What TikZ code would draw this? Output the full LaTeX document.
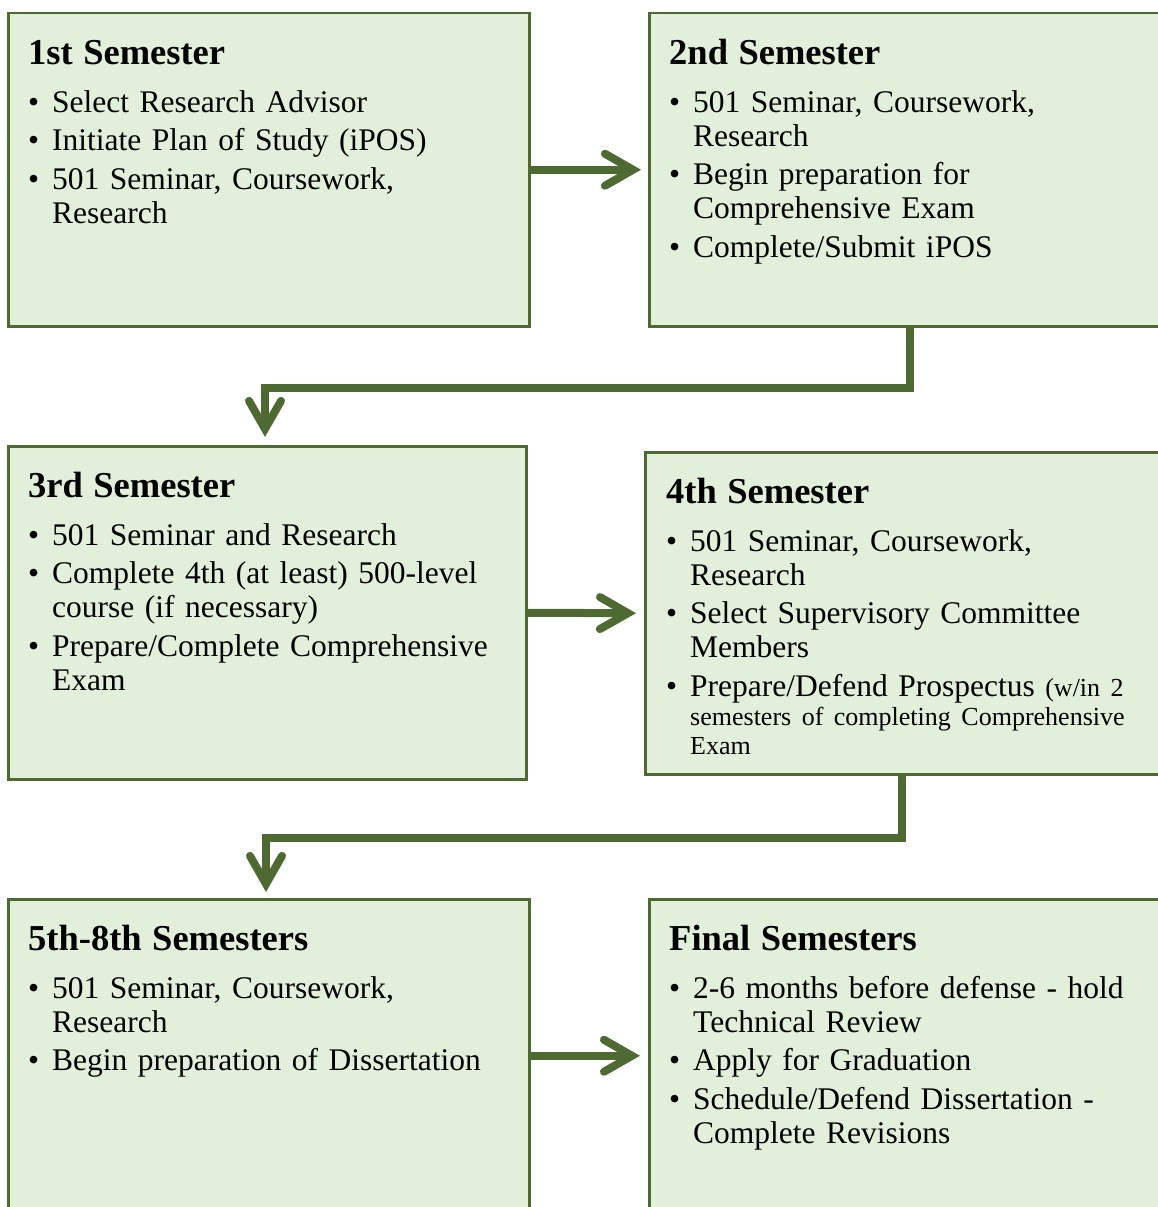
\documentclass[tikz,border=0pt]{standalone}
\usepackage{fontspec}
\setmainfont{Liberation Serif}
\usetikzlibrary{arrows.meta,calc}
\definecolor{boxfill}{HTML}{E2EFDA}
\definecolor{boxline}{HTML}{4D6B31}
\definecolor{arrowc}{HTML}{4E6A32}
\newcommand\semtitle[1]{\noindent\rule{0pt}{30pt}{\fontsize{36.5}{40}\selectfont\bfseries #1\par}\vspace{9.5pt}}
\newcommand\bitem[1]{\par\hangindent=24pt\hangafter=1\noindent\makebox[24pt][l]{\textbullet}#1\par}
\newcommand\smalltxt{\fontsize{26}{29}\selectfont}
\tikzset{
  box/.style={draw=boxline, line width=2.5pt, fill=boxfill, rectangle, anchor=north west, inner sep=0pt},
  content/.style={anchor=north west, inner sep=0pt, text width=500pt, align=left,
    font={\fontsize{31.5}{34}\selectfont\setlength{\parskip}{4.5pt}}},
  flow/.style={draw=arrowc, line width=8pt, -{Straight Barb[length=28pt,width=32pt,line cap=round]}},
}
\begin{document}
\begin{tikzpicture}[x=1pt,y=-1pt]
\useasboundingbox (0,0) rectangle (1157,1207);
% boxes
\node[box, minimum width=521pt, minimum height=313pt] (b1) at (7,12) {};
\node[box, minimum width=517pt, minimum height=313pt] (b2) at (648,12) {};
\node[box, minimum width=518pt, minimum height=333pt] (b3) at (7,445) {};
\node[box, minimum width=521pt, minimum height=322pt] (b4) at (644,451) {};
\node[box, minimum width=521pt, minimum height=317pt] (b5) at (7,898) {};
\node[box, minimum width=517pt, minimum height=317pt] (b6) at (648,898) {};
% contents
\node[content] (t1) at (28,34) {\semtitle{1st Semester}
\bitem{Select Research Advisor}
\bitem{Initiate Plan of Study (iPOS)}
\bitem{501 Seminar, Coursework,\newline Research}};
\node[content] (t2) at (669,34) {\semtitle{2nd Semester}
\bitem{501 Seminar, Coursework,\newline Research}
\bitem{Begin preparation for\newline Comprehensive Exam}
\bitem{Complete/Submit iPOS}};
\node[content] (t3) at (28,467) {\semtitle{3rd Semester}
\bitem{501 Seminar and Research}
\bitem{Complete 4th (at least) 500-level\newline course (if necessary)}
\bitem{Prepare/Complete Comprehensive\newline Exam}};
\node[content] (t4) at (666,473) {\semtitle{4th Semester}
\bitem{501 Seminar, Coursework,\newline Research}
\bitem{Select Supervisory Committee\newline Members}
\vspace{5pt}
\bitem{Prepare/Defend Prospectus {\smalltxt (w/in 2\newline semesters of completing Comprehensive\newline Exam\par}}};
\node[content] (t5) at (28,920) {\semtitle{5th-8th Semesters}
\bitem{501 Seminar, Coursework,\newline Research}
\bitem{Begin preparation of Dissertation}};
\node[content] (t6) at (669,920) {\semtitle{Final Semesters}
\bitem{2-6 months before defense - hold\newline Technical Review}
\bitem{Apply for Graduation}
\bitem{Schedule/Defend Dissertation -\newline Complete Revisions}};
% connectors
\draw[flow, shorten >=7pt] (b1.east) -- (b2.west);
\draw[flow, shorten >=8pt] (b3.east) -- (b4.west);
\draw[flow, shorten >=8pt] ($(b5.east)+(0,-2)$) -- ($(b6.west)+(0,-2)$);
\draw[flow, shorten >=8pt] ($(b2.south west)+(262,0)$) -- ++(0,60) -| ($(b3.north west)+(258,0)$);
\draw[flow, shorten >=6pt] ($(b4.south west)+(258,0)$) -- ++(0,62) -| ($(b5.north west)+(259,0)$);
\end{tikzpicture}
\end{document}
